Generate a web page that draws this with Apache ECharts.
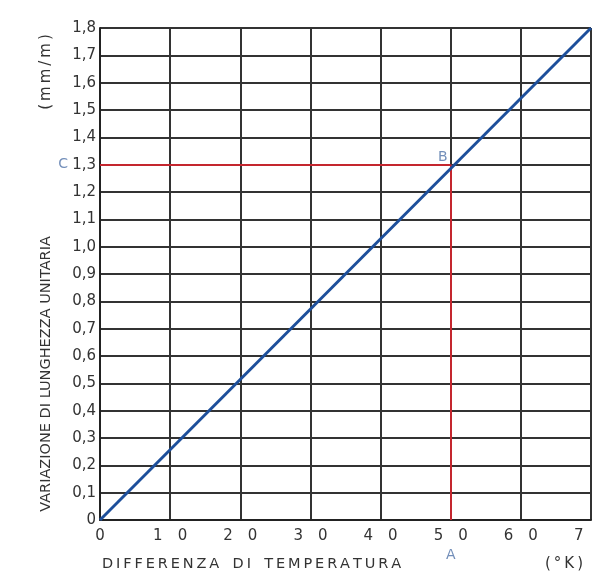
<!DOCTYPE html>
<html><head><meta charset="utf-8">
<script src="https://cdn.jsdelivr.net/npm/echarts@6/dist/echarts.min.js"></script>
<style>html,body{margin:0;padding:0;background:#fff}#c{width:592px;height:575px}</style>
</head><body><div id="c"></div>
<script>
// Data
const xTicks = [0, 10, 20, 30, 40, 50, 60, 70];
const yTicks = [0, 0.1, 0.2, 0.3, 0.4, 0.5, 0.6, 0.7, 0.8, 0.9, 1.0, 1.1, 1.2, 1.3, 1.4, 1.5, 1.6, 1.7, 1.8];
const lineX = [0, 70];
const lineY = [0, 1.8];
const pointA = [50, 0];
const pointB = [50, 1.3];
const pointC = [0, 1.3];
const xTitle = 'DIFFERENZA DI TEMPERATURA';
const yTitle = 'VARIAZIONE DI LUNGHEZZA UNITARIA';
const xUnit = '(°K)';
const yUnit = '(mm/m)';

const FONT = 'DejaVu Sans';
const TXT = '#333';
const BLUE = '#1d4f9b';
const RED = '#c4262e';
const LBL = '#4f72a8';

function spaced(s, gap) {
  return s.split('').map(ch => ch === ' ' ? gap + ' ' : ch).join(gap);
}

const chart = echarts.init(document.getElementById('c'), null, {renderer: 'canvas'});
chart.setOption({
  animation: false,
  grid: {left: 100, right: 1, top: 28, bottom: 55, outerBoundsMode: 'none', containLabel: false},
  xAxis: {
    type: 'value', min: xTicks[0], max: xTicks[xTicks.length - 1], interval: 10,
    axisLine: {show: true, onZero: false, lineStyle: {color: '#222', width: 2}},
    axisTick: {show: false},
    splitLine: {show: true, lineStyle: {color: '#333', width: 2}},
    axisLabel: {
      color: TXT, fontFamily: FONT, fontSize: 15, margin: 9,
      formatter: v => v === 0 ? '0' : String(v).split('').join('\u2003')
    }
  },
  yAxis: {
    type: 'value', min: yTicks[0], max: yTicks[yTicks.length - 1], interval: 0.1,
    axisLine: {show: true, onZero: false, lineStyle: {color: '#222', width: 2}},
    axisTick: {show: false},
    splitLine: {show: true, lineStyle: {color: '#333', width: 2}},
    axisLabel: {
      color: TXT, fontFamily: FONT, fontSize: 15, margin: 4,
      formatter: v => v === 0 ? '0' : v.toFixed(1).replace('.', ',')
    }
  },
  graphic: [
    {type: 'text', left: 102, top: 557, style: {text: spaced(xTitle, '\u2009'), fill: TXT, font: '14.5px "' + FONT + '"'}},
    {type: 'text', left: 545, top: 557, style: {text: spaced(xUnit, '\u2009'), fill: TXT, font: '15px "' + FONT + '"'}},
    {type: 'text', x: 46, y: 374, rotation: Math.PI / 2, style: {text: yTitle, fill: TXT, font: '14.5px "' + FONT + '"', align: 'center', verticalAlign: 'middle'}},
    {type: 'text', x: 46, y: 72, rotation: Math.PI / 2, style: {text: spaced(yUnit, '\u2009'), fill: TXT, font: '15px "' + FONT + '"', align: 'center', verticalAlign: 'middle'}}
  ],
  series: [
    {
      type: 'line', data: lineX.map((x, i) => [x, lineY[i]]), symbol: 'none',
      lineStyle: {color: BLUE, width: 3}, z: 5,
      markLine: {
        silent: true, symbol: 'none', label: {show: false},
        lineStyle: {color: RED, width: 2, type: 'solid'},
        data: [
          [{coord: pointC}, {coord: pointB}],
          [{coord: pointB}, {coord: pointA}]
        ]
      }
    },
    {
      type: 'scatter', symbolSize: 0, z: 6,
      data: [
        {value: pointA, label: {show: true, formatter: 'A', position: 'bottom', distance: 0, offset: [0, 28]}},
        {value: pointB, label: {show: true, formatter: 'B', position: 'top', distance: 0, offset: [-8, 0]}},
        {value: pointC, label: {show: true, formatter: 'C', position: 'left', distance: 0, offset: [-32, 0]}}
      ],
      label: {color: LBL, fontFamily: FONT, fontSize: 14}
    }
  ]
});
</script></body></html>
